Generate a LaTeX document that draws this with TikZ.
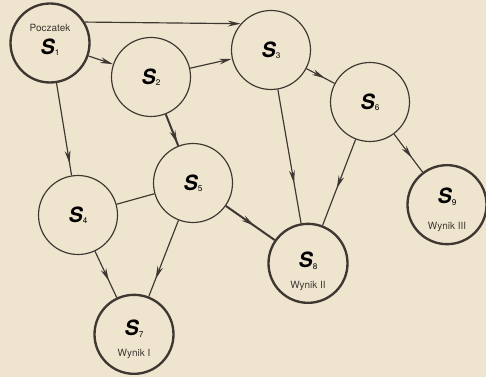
\documentclass[tikz,border=0pt]{standalone}
\usepackage{fontspec}
\setmainfont{TeX Gyre Heros}
\usetikzlibrary{automata, arrows.meta, decorations.markings}

\definecolor{papier}{RGB}{239,229,207}
\definecolor{tusz}{RGB}{62,55,50}

\newcommand{\stan}[1]{{\fontsize{18}{18}\selectfont\bfseries\itshape S}\raisebox{-1pt}{\fontsize{7}{7}\selectfont #1}}

\begin{document}
\begin{tikzpicture}[
    >={Stealth[length=11pt, width=5pt]},
    every state/.style={draw=tusz, line width=1pt, fill=none, minimum size=2.37cm,
        inner sep=0pt, text height=13pt, text depth=0pt},
    wynik/.style={line width=2pt},
    opis/.style={font=\fontsize{8.5}{8.5}\selectfont, text=tusz},
    every edge/.style={draw=tusz, line width=1pt},
    gruba/.style={line width=1.7pt},
    strz/.style={postaction={decorate}, decoration={markings,
        mark=at position #1 with {\arrow{>}}}}
]

    \fill[papier] (0,0) rectangle (14.58,11.31);
    \useasboundingbox (0,0) rectangle (14.58,11.31);

    % States
    \node[state, wynik, text height=20pt,
          label={[opis, yshift=0.45cm]center:Poczatek}] (s1) at (1.50,10.02) {\stan{1}};
    \node[state] (s2) at (4.53,9.00) {\stan{2}};
    \node[state] (s3) at (8.13,9.81) {\stan{3}};
    \node[state] (s4) at (2.34,4.86) {\stan{4}};
    \node[state] (s5) at (5.79,5.82) {\stan{5}};
    \node[state] (s6) at (11.10,8.25) {\stan{6}};
    \node[state, wynik, text height=7pt, text depth=4.2pt,
          label={[opis, yshift=-0.6cm]center:Wynik I}] (s7) at (4.02,1.28) {\stan{7}};
    \node[state, wynik, text height=10pt, text depth=2.2pt,
          label={[opis, yshift=-0.69cm]center:Wynik II}] (s8) at (9.24,3.41) {\stan{8}};
    \node[state, wynik, text height=6pt, text depth=7.4pt,
          label={[opis, yshift=-0.66cm]center:Wynik III}] (s9) at (13.41,5.17) {\stan{9}};

    % Transitions
    \path (s1.31) edge[->] (s3.139);
    \path (s1) edge[->] (s2)
               edge[strz=0.87] (s4);
    \path (s2) edge[->] (s3)
               edge[gruba, strz=0.92] (s5);
    \path (s3) edge[strz=0.65] (s6)
               edge[strz=0.7] (s8);
    \path (s6) edge[strz=0.57] (s8)
               edge[strz=0.62] (s9);
    \path (s4) edge (s5)
               edge[strz=0.64] (s7);
    \path (s5) edge[gruba, strz=0.58] (s8)
               edge[strz=0.77] (s7);

\end{tikzpicture}
\end{document}
